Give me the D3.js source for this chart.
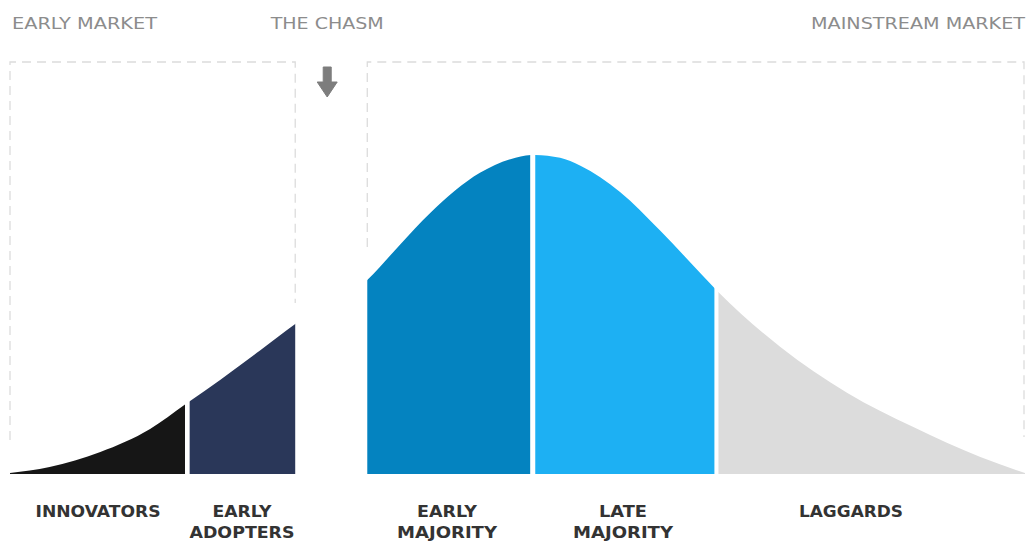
<!DOCTYPE html>
<html>
<head>
<meta charset="utf-8">
<script src="https://cdn.jsdelivr.net/npm/d3@7"></script>
<style>
  html, body { margin: 0; padding: 0; background: #fff; }
  svg { display: block; }
</style>
</head>
<body>
<svg id="chart" width="1026" height="541"></svg>
<script>
// Adoption curve: position along the lifecycle (0–100) and relative adoption (peak = 100)
const curveX = [0, 3.9, 8.9, 13.8, 17.3, 20.7, 24.6, 28.1, 35.2, 38.4, 41.4, 46.3, 49.3, 51.5, 54.2, 56.2, 60.1, 64.0, 68.0, 69.4, 75.9, 82.5, 89.0, 95.6, 100];
const curveY = [0.3, 2.2, 6.9, 14.1, 21.9, 29.5, 38.6, 47.0, 60.8, 71.8, 81.8, 94.4, 98.7, 100, 99.1, 96.6, 88.4, 76.5, 63.0, 58.3, 39.8, 25.4, 14.7, 5.3, 0.3];

// Adopter groups: label lines, span along the lifecycle, fill
const groupNames  = [["INNOVATORS"], ["EARLY", "ADOPTERS"], ["EARLY", "MAJORITY"], ["LATE", "MAJORITY"], ["LAGGARDS"]];
const groupStart  = [0, 17.7, 35.2, 51.75, 69.8];
const groupEnd    = [17.25, 28.1, 51.25, 69.4, 100];
const groupColors = ["#161616", "#2a3759", "#0483c0", "#1db0f3", "#dcdcdc"];

// Market zones drawn as open dashed frames above the curve
const marketNames = ["EARLY MARKET", "THE CHASM", "MAINSTREAM MARKET"];
const marketStart = [0, 28.1, 35.2];
const marketEnd   = [28.1, 35.2, 100];

const svg = d3.select("#chart");
const W = 1026, H = 541;
const baseY = 474, peakY = 155;

const x = d3.scaleLinear().domain([0, 100]).range([10, 1025]);
const y = d3.scaleLinear().domain([0, 100]).range([baseY, peakY]);

const pts = curveX.map((v, i) => [v, curveY[i]]);

const area = d3.area()
  .x(d => x(d[0]))
  .y0(y(0))
  .y1(d => y(d[1]))
  .curve(d3.curveMonotoneX);

// Clip regions, one per adopter group
const defs = svg.append("defs");
groupStart.forEach((s, i) => {
  defs.append("clipPath").attr("id", "grp" + i)
    .append("rect")
    .attr("x", x(s)).attr("y", 0)
    .attr("width", x(groupEnd[i]) - x(s))
    .attr("height", H);
});

// Dashed market frames (open at the bottom)
const dash = svg.append("g")
  .attr("fill", "none")
  .attr("stroke", "#dcdcdc")
  .attr("stroke-width", 1.3)
  .attr("stroke-dasharray", "9,6");
const frameTop = 62;
// early market frame
dash.append("path").attr("d", d3.line()([[x(marketStart[0]), 440], [x(marketStart[0]), frameTop], [x(marketEnd[0]), frameTop], [x(marketEnd[0]), 303]]));
// mainstream market frame
dash.append("path").attr("d", d3.line()([[x(marketStart[2]), 247], [x(marketStart[2]), frameTop], [x(marketEnd[2]) - 1, frameTop], [x(marketEnd[2]) - 1, 437]]));

// Curve segments
svg.append("g").selectAll("path")
  .data(groupColors)
  .join("path")
  .attr("d", area(pts))
  .attr("fill", d => d)
  .attr("clip-path", (d, i) => `url(#grp${i})`);

// Arrow pointing into the chasm
const ax = x(marketStart[1]) + 32;
svg.append("path")
  .attr("d", d3.line()([
    [ax - 4, 67], [ax + 4, 67], [ax + 4, 82], [ax + 10, 82],
    [ax, 97], [ax - 10, 82], [ax - 4, 82]
  ]) + "Z")
  .attr("fill", "#7d7d7d")
  .attr("stroke", "#7d7d7d")
  .attr("stroke-width", 1)
  .attr("stroke-linejoin", "round");

// Market zone titles
const labelFont = "'DejaVu Sans', Verdana, sans-serif";
const topLabels = [
  { t: marketNames[0], x: 12, anchor: "start", w: 145 },
  { t: marketNames[1], x: ax, anchor: "middle", w: 113 },
  { t: marketNames[2], x: 1025, anchor: "end", w: 214 }
];
svg.append("g").selectAll("text")
  .data(topLabels)
  .join("text")
  .attr("x", d => d.x)
  .attr("y", 29)
  .attr("text-anchor", d => d.anchor)
  .attr("textLength", d => d.w)
  .attr("lengthAdjust", "spacingAndGlyphs")
  .attr("font-family", labelFont)
  .attr("font-size", 16)
  .attr("fill", "#8c8c8c")
  .text(d => d.t);

// Group labels beneath the curve
const labelWidths = [[125], [59, 105], [60, 100], [48, 100], [104]];
const labelCenters = [98, 242, 447, 623, 851];
const lg = svg.append("g")
  .attr("font-family", labelFont)
  .attr("font-size", 16)
  .attr("font-weight", 700)
  .attr("fill", "#333333")
  .attr("text-anchor", "middle");
groupNames.forEach((lines, i) => {
  lines.forEach((line, j) => {
    lg.append("text")
      .attr("x", labelCenters[i])
      .attr("y", 517 + j * 21)
      .attr("textLength", labelWidths[i][j])
      .attr("lengthAdjust", "spacingAndGlyphs")
      .text(line);
  });
});
</script>
</body>
</html>
